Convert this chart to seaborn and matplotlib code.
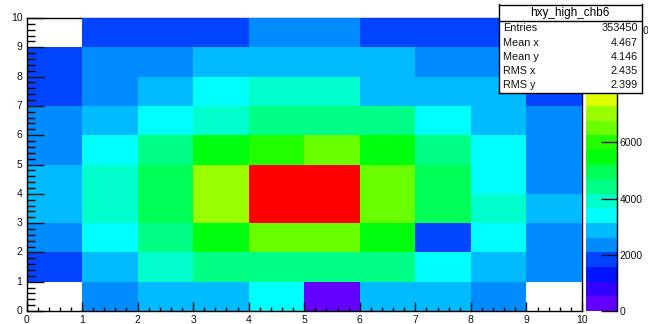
import colorsys
import pandas as pd
import seaborn as sns
import matplotlib.pyplot as plt
from matplotlib.colors import ListedColormap
from matplotlib.ticker import MultipleLocator

# bin contents: one list per y bin (y = 0..9, bottom to top), x bins 0..9 across
x_bins = list(range(10))
y_bins = list(range(10))
counts = [
    [0, 2310, 2850, 2920, 3380, 240, 2890, 2790, 2380, 0],
    [1830, 2960, 3900, 4410, 4520, 4470, 4380, 3420, 2870, 2330],
    [2290, 3440, 4460, 5480, 6490, 6550, 5420, 1880, 3390, 2410],
    [2850, 3880, 4970, 7010, 10180, 10430, 6560, 4930, 3910, 2870],
    [2880, 3930, 4920, 7060, 10260, 10350, 6480, 4960, 3370, 2340],
    [2360, 3410, 4400, 5450, 5990, 6510, 5500, 4450, 3400, 2380],
    [2320, 2880, 3400, 3920, 4380, 4460, 4410, 3380, 2890, 2350],
    [1850, 2400, 2910, 3370, 3900, 3930, 2880, 2920, 2870, 1860],
    [1800, 2330, 2410, 2860, 2940, 2900, 2870, 2380, 2340, 1790],
    [0, 1820, 1870, 1840, 2390, 2350, 1860, 1810, 1830, 0],
]
z_max = 10430
axis_ticks = list(range(11))
cbar_ticks = [0, 2000, 4000, 6000, 8000, 10000]
hist_name = 'hxy_high_chb6'
stat_names = ['Entries', 'Mean x', 'Mean y', 'RMS x', 'RMS y']
stat_values = ['353450', '4.467', '4.146', '2.435', '2.399']

plt.rcParams['font.family'] = ['Liberation Sans', 'DejaVu Sans']

# ROOT "pretty" palette (violet -> red) sampled on 20 contour levels
palette = []
for j in range(20):
    idx = int((j + 0.99) * 50 / 20)
    hue = 280 - (idx + 1) * 5.6
    palette.append(colorsys.hls_to_rgb(hue / 360, 0.5, 1.0))
cmap = ListedColormap(palette)

df = pd.DataFrame(counts, index=y_bins, columns=x_bins)

W, H = 648, 324
def box(x0, y0, x1, y1):
    # pixel box -> figure fraction
    return [x0 / W, 1 - y1 / H, (x1 - x0) / W, (y1 - y0) / H]

fig = plt.figure(figsize=(6.48, 3.24), dpi=100)
ax = fig.add_axes(box(26.5, 18, 582, 311))
cax = fig.add_axes(box(586, 18, 617, 311))

sns.heatmap(df, ax=ax, cbar_ax=cax, cmap=cmap, vmin=0, vmax=z_max,
            mask=df == 0, linewidths=0)
ax.set_xlim(0, 10)
ax.set_ylim(0, 10)
ax.set_facecolor('white')

ax.set_xticks(axis_ticks)
ax.set_xticklabels([str(t) for t in axis_ticks], rotation=0)
ax.set_yticks(axis_ticks)
ax.set_yticklabels([str(t) for t in axis_ticks], rotation=0)
ax.xaxis.set_minor_locator(MultipleLocator(0.2))
ax.yaxis.set_minor_locator(MultipleLocator(0.2))
ax.tick_params(axis='x', which='major', direction='in', length=6.3, width=1,
               bottom=True, top=False, labelsize=7.5, pad=3, colors='#111')
ax.tick_params(axis='x', which='minor', direction='in', length=3.2, width=1,
               bottom=True, top=False)
ax.tick_params(axis='y', which='major', direction='in', length=12, width=1,
               left=True, right=False, labelsize=7.5, pad=3, colors='#111')
ax.tick_params(axis='y', which='minor', direction='in', length=6, width=1,
               left=True, right=False)
for side, sp in ax.spines.items():
    sp.set_visible(True)
    sp.set_color('black')
    sp.set_linewidth(1)
    if side in ('top', 'right'):
        sp.set_zorder(0.5)  # cells are painted over the frame here

# palette axis
cbar = ax.collections[0].colorbar
cbar.set_ticks(cbar_ticks)
cbar.outline.set_visible(False)
cax.yaxis.set_ticks_position('right')
cax.tick_params(direction='in', length=11.5, width=1, labelsize=7.5, pad=2,
                colors='#111')
cax.minorticks_off()
cax.plot([1, 1], [0, 1], transform=cax.transAxes, color='black', lw=1,
         clip_on=False)

# stats box (covers the top of the palette, as in the original canvas)
sax = fig.add_axes(box(499, 4.5, 642, 93))
sax.set_xlim(499, 642)
sax.set_ylim(93, 4.5)
sax.set_xticks([])
sax.set_yticks([])
sax.set_facecolor('white')
for sp in sax.spines.values():
    sp.set_color('black')
    sp.set_linewidth(1)
sax.axhline(21, color='black', lw=1)
sax.text(570, 13, hist_name, ha='center', va='center', fontsize=8.5)
row_y = [28, 42.5, 57, 71, 85.5]
for name, val, y in zip(stat_names, stat_values, row_y):
    sax.text(503, y, name, ha='left', va='center', fontsize=7.8, color='#111')
    sax.text(638, y, val, ha='right', va='center', fontsize=7.8, color='#111')

fig.savefig('out.png', dpi=100)
